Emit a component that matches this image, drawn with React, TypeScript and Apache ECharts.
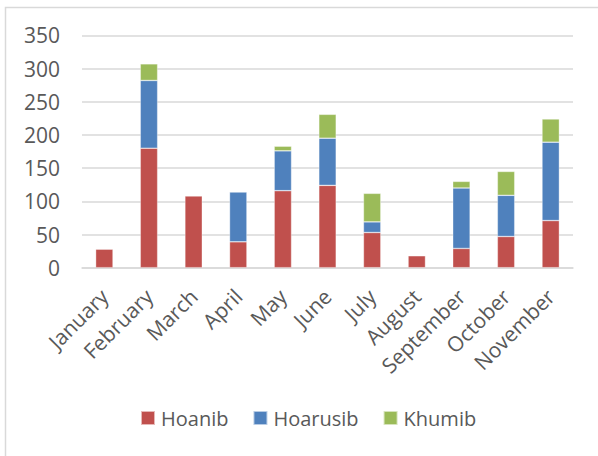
import React, { useEffect, useRef } from "react";
import * as echarts from "echarts";

const categories = ["January", "February", "March", "April", "May", "June", "July", "August", "September", "October", "November"];
const hoanib = [28, 180, 108, 39, 116, 124, 53, 18, 29, 47, 71];
const hoarusib = [0, 102, 0, 75, 60, 71, 16, 0, 91, 62, 118];
const khumib = [0, 25, 0, 0, 7, 36, 43, 0, 10, 36, 35];
const yTicks = [0, 50, 100, 150, 200, 250, 300, 350];

const FONT = "'Open Sans', sans-serif";
const TEXT = "#595959";

export default function App() {
  const ref = useRef<HTMLDivElement>(null);
  useEffect(() => {
    if (!ref.current) return;
    const chart = echarts.init(ref.current, null, { renderer: "svg" });
    const mk = (name: string, data: number[], color: string) => ({
      name,
      type: "bar",
      stack: "total",
      data: data.map((v) => (v === 0 ? null : v)),
      barWidth: "39%",
      itemStyle: { color, borderColor: "rgba(255,255,255,0.6)", borderWidth: 0.6 },
    });
    chart.setOption({
      animation: false,
      backgroundColor: "#ffffff",
      textStyle: { fontFamily: FONT },
      graphic: [
        {
          type: "rect",
          shape: { x: 5.5, y: 7.5, width: 700, height: 600 },
          style: { fill: "none", stroke: "#d9d9d9", lineWidth: 1.5 },
          silent: true,
        },
      ],
      grid: { left: 82, right: 25, top: 35.3, bottom: 188.3, containLabel: false },
      legend: {
        left: 140,
        top: 408,
        padding: 0,
        itemWidth: 14,
        itemHeight: 14,
        itemGap: 24,
        icon: "rect",
        textStyle: { color: TEXT, fontSize: 20, fontFamily: FONT, padding: [0, 0, 0, 1] },
        data: ["Hoanib", "Hoarusib", "Khumib"],
      },
      xAxis: {
        type: "category",
        data: categories,
        axisLine: { lineStyle: { color: "#d9d9d9", width: 1.5 } },
        axisTick: { show: false },
        axisLabel: { rotate: 45, color: TEXT, fontSize: 21, fontFamily: FONT, margin: 25, interval: 0 },
      },
      yAxis: {
        type: "value",
        min: yTicks[0],
        max: yTicks[yTicks.length - 1],
        interval: 50,
        axisLine: { show: false },
        axisTick: { show: false },
        splitLine: { lineStyle: { color: "#d9d9d9", width: 1.5 } },
        axisLabel: { color: TEXT, fontSize: 21, fontFamily: FONT, margin: 22 },
      },
      series: [mk("Hoanib", hoanib, "#C0504D"), mk("Hoarusib", hoarusib, "#4F81BD"), mk("Khumib", khumib, "#9BBB59")],
    });
    return () => chart.dispose();
  }, []);
  return <div ref={ref} style={{ position: "fixed", left: 0, top: 0, width: 598, height: 456 }} />;
}
